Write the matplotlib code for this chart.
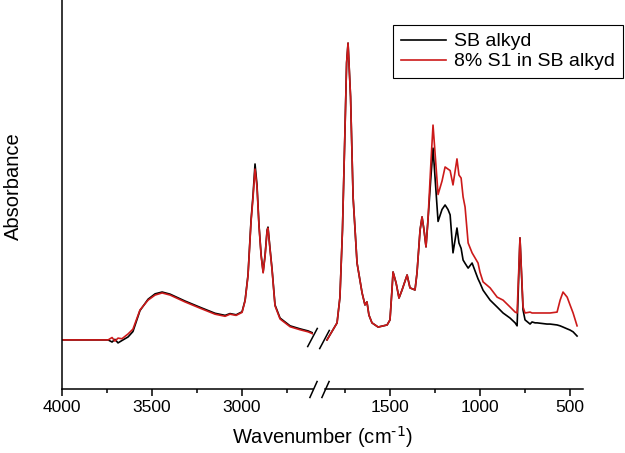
import matplotlib.pyplot as plt

plt.rcParams['font.family'] = ['Liberation Sans', 'DejaVu Sans']

# O-H / C-H stretching region (cm-1) and absorbance of both films
wn_hi = [4000, 3744, 3722, 3706, 3689, 3667, 3633, 3606, 3567, 3522,
         3483, 3444, 3400, 3317, 3233, 3150, 3094, 3067, 3033, 3000,
         2983, 2967, 2950, 2939, 2928, 2917, 2906, 2894, 2883, 2872,
         2861, 2856, 2844, 2833, 2817, 2789, 2733, 2678, 2633, 2594]
sb_hi = [0.164, 0.164, 0.157, 0.166, 0.154, 0.162, 0.174, 0.192, 0.262, 0.300,
         0.318, 0.324, 0.317, 0.294, 0.273, 0.253, 0.246, 0.252, 0.248, 0.258,
         0.297, 0.381, 0.565, 0.648, 0.752, 0.682, 0.548, 0.448, 0.391, 0.448,
         0.531, 0.541, 0.465, 0.398, 0.281, 0.237, 0.211, 0.201, 0.194, 0.184]
s1_hi = [0.164, 0.164, 0.172, 0.160, 0.170, 0.168, 0.184, 0.200, 0.264, 0.297,
         0.314, 0.321, 0.314, 0.291, 0.270, 0.250, 0.243, 0.250, 0.246, 0.256,
         0.295, 0.378, 0.560, 0.640, 0.735, 0.675, 0.545, 0.445, 0.388, 0.445,
         0.528, 0.538, 0.462, 0.395, 0.278, 0.234, 0.208, 0.198, 0.191, 0.181]

# carbonyl + fingerprint region
wn_lo = [1850, 1794, 1778, 1764, 1750, 1741, 1733, 1719, 1705, 1683,
         1655, 1639, 1628, 1617, 1600, 1566, 1516, 1500, 1489, 1483,
         1466, 1450, 1433, 1405, 1389, 1361, 1350, 1333, 1322, 1311,
         1300, 1289, 1272, 1261, 1233, 1211, 1194, 1178, 1166, 1150,
         1128, 1117, 1105, 1094, 1083, 1066, 1044, 1011, 1000, 983,
         944, 905, 872, 833, 805, 794, 778, 761, 750, 722,
         711, 694, 683, 628, 611, 572, 555, 539, 516, 500,
         483, 461]
sb_lo = [0.164, 0.221, 0.307, 0.531, 0.866, 1.090, 1.156, 0.976, 0.642, 0.421,
         0.321, 0.281, 0.291, 0.247, 0.221, 0.207, 0.214, 0.231, 0.331, 0.391,
         0.354, 0.304, 0.331, 0.381, 0.338, 0.331, 0.388, 0.531, 0.575, 0.531,
         0.475, 0.565, 0.715, 0.805, 0.560, 0.600, 0.615, 0.600, 0.582, 0.455,
         0.538, 0.488, 0.470, 0.431, 0.420, 0.404, 0.421, 0.368, 0.354, 0.330,
         0.297, 0.274, 0.254, 0.237, 0.221, 0.211, 0.505, 0.264, 0.231, 0.217,
         0.224, 0.221, 0.221, 0.217, 0.217, 0.214, 0.211, 0.207, 0.201, 0.197,
         0.191, 0.177]
s1_lo = [0.164, 0.221, 0.307, 0.531, 0.866, 1.090, 1.156, 0.976, 0.642, 0.421,
         0.321, 0.281, 0.291, 0.247, 0.221, 0.207, 0.214, 0.231, 0.331, 0.391,
         0.354, 0.304, 0.331, 0.381, 0.338, 0.331, 0.388, 0.531, 0.575, 0.531,
         0.475, 0.565, 0.765, 0.882, 0.650, 0.695, 0.742, 0.735, 0.730, 0.682,
         0.769, 0.715, 0.705, 0.642, 0.608, 0.488, 0.455, 0.421, 0.390, 0.358,
         0.338, 0.307, 0.297, 0.274, 0.257, 0.254, 0.505, 0.274, 0.254, 0.257,
         0.254, 0.254, 0.254, 0.254, 0.254, 0.257, 0.297, 0.324, 0.307, 0.281,
         0.254, 0.211]

labels = ['SB alkyd', '8% S1 in SB alkyd']
colors = ['black', '#cc1a1a']

fig = plt.figure(figsize=(6.25, 4.53), dpi=100)
ax1 = fig.add_axes([0.0992, 0.1413, 0.4016, 0.8587])
ax2 = fig.add_axes([0.52, 0.1413, 0.4128, 0.8587])

for ax, wn, sb, s1 in [(ax1, wn_hi, sb_hi, s1_hi), (ax2, wn_lo, sb_lo, s1_lo)]:
    ax.plot(wn, sb, color=colors[0], lw=1.2, label=labels[0])
    ax.plot(wn, s1, color=colors[1], lw=1.2, label=labels[1])
    ax.set_ylim(0, 1.3)
    ax.set_yticks([])
    ax.spines[['top', 'right']].set_visible(False)
    for s in ax.spines.values():
        s.set_linewidth(1.1)
    ax.tick_params(axis='x', which='major', length=5, width=1.1, labelsize=12.5, pad=3)
    ax.tick_params(axis='x', which='minor', length=3, width=1.1)

ax1.set_xlim(4000, 2606)
ax2.set_xlim(1861, 428)
ax2.spines['left'].set_visible(False)

ax1.set_xticks([4000, 3500, 3000])
ax1.set_xticks([3750, 3250, 2750], minor=True)
ax2.set_xticks([1500, 1000, 500])
ax2.set_xticks([1750, 1250, 750], minor=True)

# break marks on the axis and on the curves
slash = dict(marker=[(-0.45, -1), (0.45, 1)], markersize=12.5, linestyle='none',
             color='black', mec='black', mew=1.1, clip_on=False)
ax1.plot([1], [0], transform=ax1.transAxes, **slash)
ax2.plot([0], [0], transform=ax2.transAxes, **slash)
slash['marker'] = [(-0.53, -1), (0.53, 1)]
slash['markersize'] = 14
ax1.plot([2611], [0.174], **slash)
ax2.plot([1866], [0.167], **slash)

ax1.set_ylabel('Absorbance', fontsize=14.5)
ax1.yaxis.set_label_coords(-0.155, 0.522)
fig.text(322 / 625, 0.035, r'Wavenumber (cm$^{\text{-1}}$)', ha='center', va='center',
         fontsize=14.5)

handles, _ = ax2.get_legend_handles_labels()
leg = fig.legend(handles, labels, loc='upper left', bbox_to_anchor=(393 / 625, 1 - 25 / 453),
                 borderaxespad=0, fontsize=14, frameon=True, fancybox=False,
                 edgecolor='black', framealpha=1, handlelength=2.3, handletextpad=0.45,
                 labelspacing=0.12, borderpad=0.4)
leg.get_frame().set_linewidth(0.8)

fig.savefig('out.png', dpi=100)
